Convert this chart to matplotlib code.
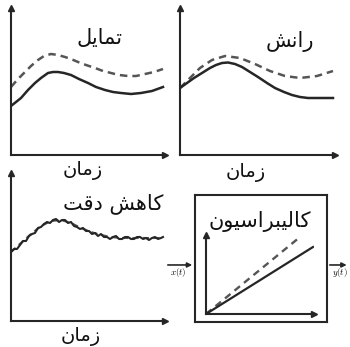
import numpy as np
import matplotlib.pyplot as plt

# ---- data (time / amplitude in arbitrary units) ----
bias_t = [0, 7, 14, 20, 27, 33, 40, 47, 54, 60, 67, 75, 84, 92, 100, 108, 117, 125, 134, 143, 152]
bias_ref = [68, 76, 83, 89, 95, 99, 101, 100, 98, 96, 93, 90, 87, 84, 82, 80, 79, 79, 81, 83, 86]
bias_t2 = [0, 5, 10, 17, 24, 30, 37, 42, 47, 53, 60, 68, 77, 85, 94, 102, 110, 120, 130, 141, 152]
bias_meas = [49, 53, 57, 65, 72, 77, 82, 83, 83, 82, 80, 76, 72, 68, 65, 63, 62, 61, 62, 64, 68]

drift_t = [0, 7, 14, 22, 30, 36, 42, 48, 55, 62, 70, 78, 87, 95, 104, 112, 120, 128, 137, 145, 153]
drift_meas = [67, 72, 77, 82, 87, 90, 92, 92.5, 91, 88, 83, 78, 72, 67, 63, 60, 58, 57, 57, 57, 57]
drift_t2 = [0, 8, 20, 32, 45, 60, 75, 90, 105, 120, 137, 153]
drift_ref = [67, 75, 87, 95, 99, 97, 91, 84, 79, 77, 79, 84]

noise_t = [0, 3, 6, 9, 12, 15, 18, 21, 24, 27, 30, 33, 36, 39, 42, 45, 48, 51, 54, 57,
           60, 63, 66, 69, 72, 75, 78, 81, 84, 87, 90, 93, 96, 99, 102, 105, 108, 111,
           114, 117, 120, 123, 126, 129, 132, 135, 138, 141, 144, 147, 150, 152]
noise_meas = [69, 72, 72, 76, 80, 80, 85, 87, 88, 93, 94, 97, 99, 98, 101, 102, 99, 101,
              101, 98, 99, 95, 94, 92, 93, 90, 90, 87, 88, 85, 87, 84, 84, 82, 84, 85,
              82, 82, 84, 84, 82, 82, 84, 84, 82, 83, 81, 83, 84, 82, 83, 84]
noise_t2 = [0, 10, 20, 30, 40, 50, 60, 70, 80, 90, 100, 110, 120, 135, 152]
noise_ref = [69, 78, 87, 95, 100, 101, 98, 93, 89, 86, 84, 83, 83, 83, 83]

cal_in = [0, 107]
cal_out = [0, 67]
cal_in2 = [0, 94]
cal_ideal = [0, 77]

# ---- minimal Persian shaping (matplotlib has no RTL joining) ----
FORMS = {
    'ا': ('\uFE8D', '\uFE8E', None, None),
    'ب': ('\uFE8F', '\uFE90', '\uFE91', '\uFE92'),
    'ت': ('\uFE95', '\uFE96', '\uFE97', '\uFE98'),
    'د': ('\uFEA9', '\uFEAA', None, None),
    'ر': ('\uFEAD', '\uFEAE', None, None),
    'ز': ('\uFEAF', '\uFEB0', None, None),
    'س': ('\uFEB1', '\uFEB2', '\uFEB3', '\uFEB4'),
    'ش': ('\uFEB5', '\uFEB6', '\uFEB7', '\uFEB8'),
    'ق': ('\uFED5', '\uFED6', '\uFED7', '\uFED8'),
    'ک': ('\uFB8E', '\uFB8F', '\uFB90', '\uFB91'),
    'ل': ('\uFEDD', '\uFEDE', '\uFEDF', '\uFEE0'),
    'م': ('\uFEE1', '\uFEE2', '\uFEE3', '\uFEE4'),
    'ن': ('\uFEE5', '\uFEE6', '\uFEE7', '\uFEE8'),
    'ه': ('\uFEE9', '\uFEEA', '\uFEEB', '\uFEEC'),
    'و': ('\uFEED', '\uFEEE', None, None),
    'ی': ('\uFBFC', '\uFBFD', '\uFBFE', '\uFBFF'),
}


def fa(s):
    out = []
    for i, ch in enumerate(s):
        if ch not in FORMS:
            out.append(ch)
            continue
        prev = s[i - 1] if i > 0 else None
        nxt = s[i + 1] if i + 1 < len(s) else None
        jp = prev in FORMS and FORMS[prev][2] is not None
        jn = nxt in FORMS and FORMS[ch][2] is not None
        iso, fin, ini, med = FORMS[ch]
        out.append(med if jp and jn else fin if jp else ini if jn else iso)
    return ''.join(reversed(out))


W, H = 350, 347
plt.rcParams['font.family'] = ['DejaVu Sans']
plt.rcParams['mathtext.fontset'] = 'cm'
fig = plt.figure(figsize=(W / 100, H / 100), dpi=100)

INK = '#262626'
DASH = '#555555'
TXT = '#111111'


def px_axes(l, t, r, b):
    return fig.add_axes([l / W, 1 - b / H, (r - l) / W, (b - t) / H])


def arrow_axes(ax):
    for s in ('top', 'right'):
        ax.spines[s].set_visible(False)
    for s in ('left', 'bottom'):
        ax.spines[s].set_color(INK)
        ax.spines[s].set_linewidth(1.5)
    ax.set_xticks([])
    ax.set_yticks([])
    ax.patch.set_alpha(0)
    ax.plot(1, 0, '>', color=INK, ms=4, transform=ax.get_yaxis_transform(), clip_on=False)
    ax.plot(0, 1, '^', color=INK, ms=4, transform=ax.get_xaxis_transform(), clip_on=False)


# panel 1: bias
ax1 = px_axes(11, 8, 165, 155)
arrow_axes(ax1)
ax1.set_xlim(0, 154)
ax1.set_ylim(0, 147)
ax1.plot(bias_t, bias_ref, color=DASH, lw=1.8, ls=(0, (3, 2)))
ax1.plot(bias_t2, bias_meas, color=INK, lw=1.8)
ax1.text(89, 117, fa('تمایل'), fontsize=15, ha='center', va='center', color=TXT)
ax1.text(72, -15, fa('زمان'), fontsize=14, ha='center', va='center', color=TXT, clip_on=False)

# panel 2: drift
ax2 = px_axes(180, 8, 335, 155)
arrow_axes(ax2)
ax2.set_xlim(0, 155)
ax2.set_ylim(0, 147)
ax2.plot(drift_t2, drift_ref, color=DASH, lw=1.8, ls=(0, (3, 2)))
ax2.plot(drift_t, drift_meas, color=INK, lw=1.8)
ax2.text(110, 113, fa('رانش'), fontsize=15, ha='center', va='center', color=TXT)
ax2.text(66, -17, fa('زمان'), fontsize=14, ha='center', va='center', color=TXT, clip_on=False)

# panel 3: precision loss
ax3 = px_axes(11, 173, 165, 321)
arrow_axes(ax3)
ax3.set_xlim(0, 154)
ax3.set_ylim(0, 148)
ax3.plot(noise_t2, noise_ref, color=DASH, lw=1.5, ls=(0, (3, 2)))
ax3.plot(noise_t, noise_meas, color=INK, lw=1.5)
ax3.text(102, 117, fa('کاهش دقت'), fontsize=15, ha='center', va='center', color=TXT)
ax3.text(70, -16, fa('زمان'), fontsize=14, ha='center', va='center', color=TXT, clip_on=False)

# panel 4: calibration block
box = px_axes(195, 195, 327, 322)
box.set_xticks([])
box.set_yticks([])
for s in box.spines.values():
    s.set_color(INK)
    s.set_linewidth(1.5)
box.text(0.49, 0.79, fa('کالیبراسیون'), fontsize=15, ha='center', va='center',
         color=TXT, transform=box.transAxes)
box.annotate('', xy=(0, 0.449), xytext=(-0.227, 0.449), xycoords='axes fraction',
             arrowprops=dict(arrowstyle='-|>', color=INK, lw=1.2, mutation_scale=7))
box.annotate('', xy=(1.17, 0.449), xytext=(1.0, 0.449), xycoords='axes fraction',
             arrowprops=dict(arrowstyle='-|>', color=INK, lw=1.2, mutation_scale=7))
box.text(-0.13, 0.39, '$x(t)$', fontsize=6.5, ha='center', va='center', transform=box.transAxes)
box.text(1.10, 0.39, '$y(t)$', fontsize=6.5, ha='center', va='center', transform=box.transAxes)

ax4 = px_axes(206, 235, 314, 314)
arrow_axes(ax4)
ax4.set_xlim(0, 108)
ax4.set_ylim(0, 79)
ax4.plot(cal_in2, cal_ideal, color=DASH, lw=1.7, ls=(0, (3, 2.2)))
ax4.plot(cal_in, cal_out, color=INK, lw=1.6)

fig.savefig('out.png', dpi=100)
